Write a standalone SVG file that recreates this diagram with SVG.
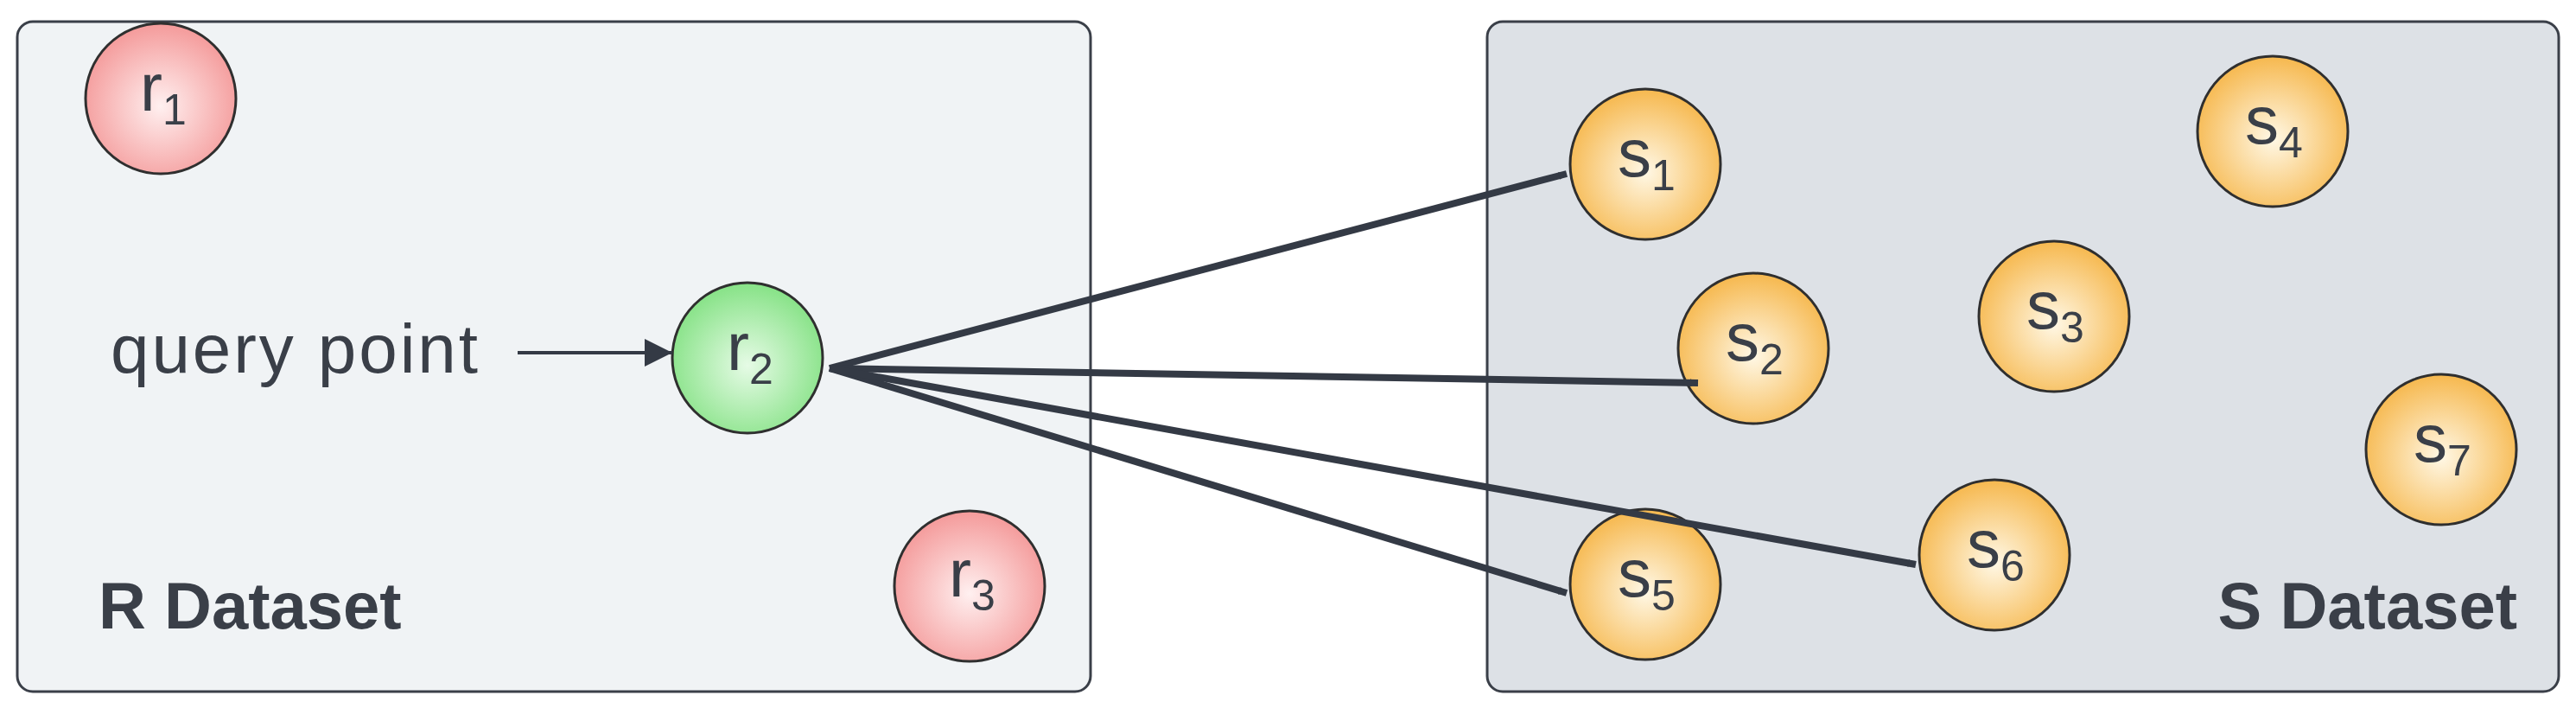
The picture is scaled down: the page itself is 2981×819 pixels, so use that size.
<svg xmlns="http://www.w3.org/2000/svg" width="2981" height="819" viewBox="0 0 2981 819">
<defs>
<radialGradient id="gr" cx="50%" cy="55%" r="55%"><stop offset="0" stop-color="#fff0f0"/><stop offset="1" stop-color="#f49a9a"/></radialGradient>
<radialGradient id="gg" cx="50%" cy="55%" r="55%"><stop offset="0" stop-color="#e6fbe6"/><stop offset="1" stop-color="#86e286"/></radialGradient>
<radialGradient id="go" cx="50%" cy="55%" r="55%"><stop offset="0" stop-color="#fff8e6"/><stop offset="1" stop-color="#f6b84e"/></radialGradient>
<marker id="ah" viewBox="0 0 10 10" refX="10" refY="5" markerWidth="9" markerHeight="9" markerUnits="userSpaceOnUse" orient="auto" style="overflow:visible"><path d="M0,0 L10,5 L0,10 z" fill="#343a45"/></marker>
<marker id="ahb" viewBox="0 0 10 10" refX="10" refY="5" markerWidth="8" markerHeight="8" orient="auto"><path d="M0,0 L10,5 L0,10 z" fill="#343a45"/></marker>
</defs>
<style>
.box{stroke:#3a3f48;stroke-width:3}
.c{stroke:#2f2f2f;stroke-width:3}
.t{font-family:"Liberation Sans",Arial,sans-serif;fill:#3a3f48}
.lbl{font-size:78px}
.sub{font-size:50px}
.ttl{font-size:76px;font-weight:bold}
.ln{stroke:#343a45;stroke-width:8;fill:none}
</style>
<rect id="Rbox" class="box" x="20" y="25" width="1242" height="775" rx="18" fill="#f0f3f5"/>
<rect id="Sbox" class="box" x="1721" y="25" width="1240" height="775" rx="18" fill="#dde1e6"/>
<text class="t ttl" x="114" y="727">R Dataset</text>
<text class="t ttl" x="2913" y="727" text-anchor="end">S Dataset</text>
<text class="t" x="128" y="431" font-size="80" textLength="425">query point</text>
<g id="r1"><circle class="c" cx="186" cy="114" r="87" fill="url(#gr)"/><text class="t lbl" x="162" y="128">r<tspan class="sub" dy="16">1</tspan></text></g>
<g id="r2"><circle class="c" cx="865" cy="414" r="87" fill="url(#gg)"/><text class="t lbl" x="841" y="428">r<tspan class="sub" dy="16">2</tspan></text></g>
<g id="r3"><circle class="c" cx="1122" cy="678" r="87" fill="url(#gr)"/><text class="t lbl" x="1098" y="690">r<tspan class="sub" dy="16">3</tspan></text></g>
<g id="s1"><circle class="c" cx="1904" cy="190" r="87" fill="url(#go)"/><text class="t lbl" x="1872" y="204">s<tspan class="sub" dy="16">1</tspan></text></g>
<g id="s2"><circle class="c" cx="2029" cy="403" r="87" fill="url(#go)"/><text class="t lbl" x="1997" y="417">s<tspan class="sub" dy="16">2</tspan></text></g>
<g id="s3"><circle class="c" cx="2377" cy="366" r="87" fill="url(#go)"/><text class="t lbl" x="2345" y="380">s<tspan class="sub" dy="16">3</tspan></text></g>
<g id="s4"><circle class="c" cx="2630" cy="152" r="87" fill="url(#go)"/><text class="t lbl" x="2598" y="166">s<tspan class="sub" dy="16">4</tspan></text></g>
<g id="s5"><circle class="c" cx="1904" cy="676" r="87" fill="url(#go)"/><text class="t lbl" x="1872" y="690">s<tspan class="sub" dy="16">5</tspan></text></g>
<g id="s6"><circle class="c" cx="2308" cy="642" r="87" fill="url(#go)"/><text class="t lbl" x="2276" y="656">s<tspan class="sub" dy="16">6</tspan></text></g>
<g id="s7"><circle class="c" cx="2825" cy="520" r="87" fill="url(#go)"/><text class="t lbl" x="2793" y="534">s<tspan class="sub" dy="16">7</tspan></text></g>
<g id="connectors">
<line class="ln" x1="599" y1="408" x2="778" y2="408" style="stroke-width:4" marker-end="url(#ahb)"/>
<line class="ln" x1="960" y1="426" x2="1813" y2="201" marker-end="url(#ah)"/>
<line class="ln" x1="960" y1="426" x2="1965" y2="443" marker-end="url(#ah)"/>
<line class="ln" x1="960" y1="426" x2="1813" y2="686" marker-end="url(#ah)"/>
<line class="ln" x1="960" y1="426" x2="2217" y2="653" marker-end="url(#ah)"/>
</g>
</svg>
